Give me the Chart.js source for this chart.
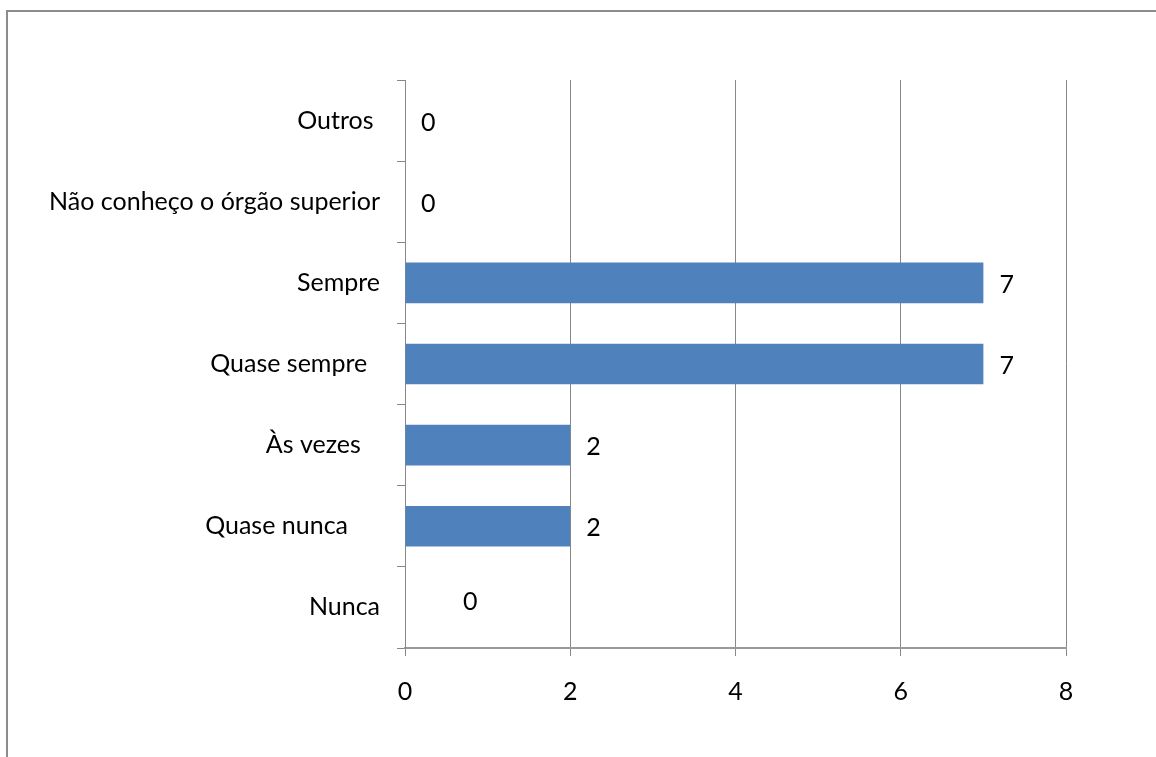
<!DOCTYPE html>
<html>
<head>
<meta charset="utf-8">
<script src="https://cdn.jsdelivr.net/npm/chart.js@4"></script>
<style>
  html, body { margin: 0; padding: 0; background: #fff; overflow: hidden; }
  #wrap { position: relative; width: 1156px; height: 757px; }
  #frame { position: absolute; left: 6px; top: 10px; width: 1200px; height: 800px;
           border: 2px solid #8c8c8c; box-sizing: border-box; }
  canvas { position: absolute; left: 0; top: 0; }
</style>
</head>
<body>
<div id="wrap">
  <div id="frame"></div>
  <canvas id="barChart" width="1156" height="757"></canvas>
</div>
<script>
// categories, top to bottom (trailing spaces as in the original sheet)
var categories = ["Outros ", "Não conheço o órgão superior", "Sempre", "Quase sempre  ",
                  "Às vezes   ", "Quase nunca     ", "Nunca"];
var answers = [0, 0, 7, 7, 2, 2, 0];
var xTicks = [0, 2, 4, 6, 8];
// extra shift of the value label, px (Nunca label sits further right)
var labelShift = [0, 0, 0, 0, 0, 0, 42];

var fontFamily = "Lato, 'Open Sans', sans-serif";
var fontSize = 25;
var gridColor = '#888888';

// draws the value next to each bar
var valueLabels = {
  id: 'valueLabels',
  afterDatasetsDraw: function(chart) {
    var ctx = chart.ctx;
    var meta = chart.getDatasetMeta(0);
    ctx.save();
    ctx.font = fontSize + 'px ' + fontFamily;
    ctx.fillStyle = '#000';
    ctx.textAlign = 'left';
    ctx.textBaseline = 'middle';
    meta.data.forEach(function(bar, i) {
      ctx.fillText(String(answers[i]), bar.x + 16 + labelShift[i], bar.y + 2 + (labelShift[i] ? -7 : 0));
    });
    ctx.restore();
  }
};

var ctxB = document.getElementById("barChart").getContext('2d');
var myBarChart = new Chart(ctxB, {
  type: 'bar',
  data: {
    labels: categories,
    datasets: [{
      data: answers,
      backgroundColor: '#4f81bd',
      borderWidth: 0,
      barPercentage: 0.5,
      categoryPercentage: 1
    }]
  },
  plugins: [valueLabels],
  options: {
    indexAxis: 'y',
    responsive: false,
    animation: false,
    layout: { padding: { top: 80, right: 90, left: 0, bottom: 0 } },
    plugins: { legend: { display: false }, tooltip: { enabled: false } },
    scales: {
      x: {
        min: 0,
        max: 8,
        afterBuildTicks: function(scale) {
          scale.ticks = xTicks.map(function(v) { return { value: v }; });
        },
        afterFit: function(scale) { scale.height = 109; },
        grid: { color: gridColor, lineWidth: 1, tickLength: 8 },
        border: { color: '#999999', width: 2 },
        ticks: { color: '#000', padding: 21, font: { family: fontFamily, size: fontSize } }
      },
      y: {
        afterFit: function(scale) { scale.width = 405; },
        grid: { drawOnChartArea: false, color: gridColor, tickLength: 8, offset: true },
        border: { color: gridColor, width: 1 },
        ticks: { color: '#000', padding: 17, font: { family: fontFamily, size: fontSize } }
      }
    }
  }
});
</script>
</body>
</html>
